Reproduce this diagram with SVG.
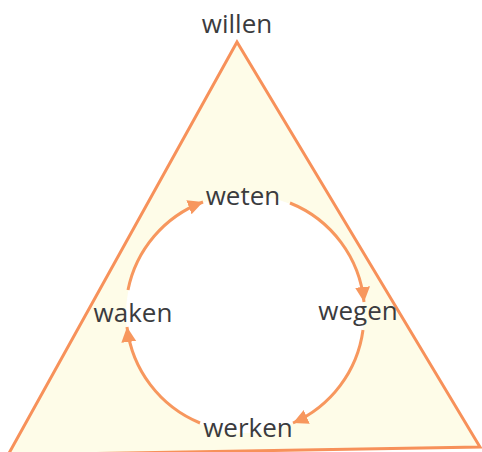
<svg xmlns="http://www.w3.org/2000/svg" width="482" height="452" viewBox="0 0 482 452">
<style>
.lbl{font-family:"Open Sans","Liberation Sans",sans-serif;font-size:26px;fill:#3b3b3e;text-anchor:middle}
.arc{fill:none;stroke:#f7975e;stroke-width:3}
</style>
<defs>
<marker id="ah" markerUnits="userSpaceOnUse" markerWidth="16" markerHeight="16" refX="15" refY="7.5" orient="auto" viewBox="0 0 16 15">
<path d="M0,0 L15,7.5 L0,15 z" fill="#f7975e"/>
</marker>
</defs>
<rect width="482" height="452" fill="#ffffff"/>
<g id="triangle">
<polygon points="237,42 480,447 8,455" fill="#fefce8" stroke="#f7915a" stroke-width="3" stroke-linejoin="miter"/>
<circle cx="245" cy="314" r="119" fill="#ffffff"/>
</g>
<g id="connectors">
<path class="arc" d="M128,290 A119,119 0 0 1 203,202" marker-end="url(#ah)"/>
<path class="arc" d="M290,203 A119,119 0 0 1 364,302" marker-end="url(#ah)"/>
<path class="arc" d="M363,330 A119,119 0 0 1 293,423" marker-end="url(#ah)"/>
<path class="arc" d="M200,423 A119,119 0 0 1 127,327" marker-end="url(#ah)"/>
</g>
<g id="willen"><text class="lbl" x="237" y="33">willen</text></g>
<g id="weten"><text class="lbl" x="243" y="205">weten</text></g>
<g id="wegen"><text class="lbl" x="358" y="320">wegen</text></g>
<g id="waken"><text class="lbl" x="133" y="322">waken</text></g>
<g id="werken"><text class="lbl" x="248" y="437">werken</text></g>
</svg>
